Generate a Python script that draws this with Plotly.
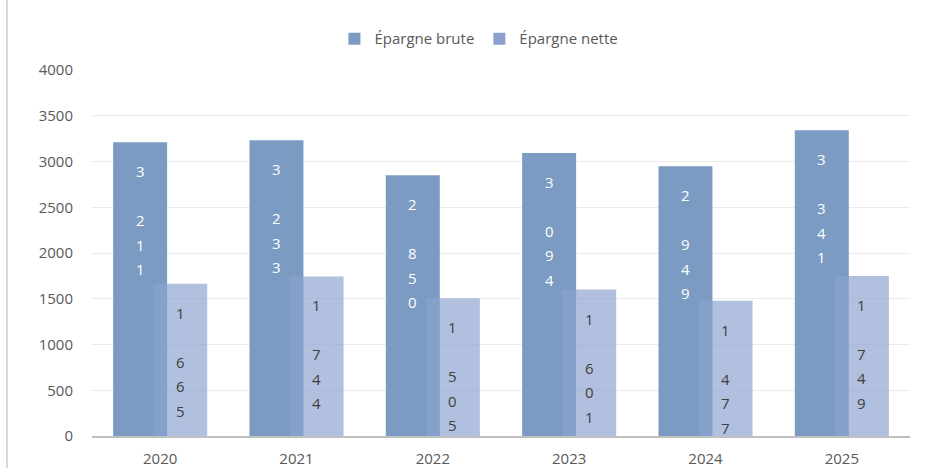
import plotly.graph_objects as go

years = ["2020", "2021", "2022", "2023", "2024", "2025"]
epargne_brute = [3211, 3233, 2850, 3094, 2949, 3341]
epargne_nette = [1665, 1744, 1505, 1601, 1477, 1749]
y_ticks = [0, 500, 1000, 1500, 2000, 2500, 3000, 3500, 4000]

FONT = "Open Sans"
BAR_W = 0.396
OFFSETS = {"brute": -0.345, "nette": -0.051}
PLOT_W = 941 - 92 - 31
PX_PER_CAT = PLOT_W / len(years)


def label_chars(v):
    return list(f"{v:,}".replace(",", " "))


fig = go.Figure()
fig.add_trace(go.Bar(
    name="Épargne brute", x=years, y=epargne_brute,
    width=BAR_W, offset=OFFSETS["brute"],
    marker=dict(color="#7B9BC3", line=dict(width=0)),
    hoverinfo="skip",
))
fig.add_trace(go.Bar(
    name="Épargne nette", x=years, y=epargne_nette,
    width=BAR_W, offset=OFFSETS["nette"],
    marker=dict(color="rgb(139,162,206)", opacity=0.68, line=dict(width=0)),
    hoverinfo="skip",
))

# vertical, one-character-per-line data labels (as in the source chart)
annotations = []
for key, values, color in (("brute", epargne_brute, "white"),
                           ("nette", epargne_nette, "#404040")):
    xshift = (OFFSETS[key] + BAR_W / 2) * PX_PER_CAT
    for idx, v in enumerate(values):
        for i, ch in enumerate(label_chars(v)):
            if ch == " ":
                continue
            annotations.append(dict(
                x=idx, y=v, xref="x", yref="y", text=ch, showarrow=False,
                xshift=xshift, yshift=-(29 + 24.5 * i), yanchor="middle",
                font=dict(family=FONT, size=15, color=color),
            ))

fig.update_layout(
    width=941, height=468,
    barmode="overlay",
    margin=dict(l=92, r=31, t=70, b=32, autoexpand=False),
    paper_bgcolor="white", plot_bgcolor="white",
    font=dict(family=FONT, size=15, color="#595959"),
    legend=dict(
        orientation="h", x=0.473, xanchor="center", y=1.085, yanchor="middle",
        font=dict(family=FONT, size=15, color="#595959"),
        itemwidth=30, traceorder="normal", bgcolor="rgba(0,0,0,0)",
    ),
    showlegend=True,
    annotations=annotations,
)
fig.update_xaxes(
    type="category", categoryorder="array", categoryarray=years,
    range=[-0.5, len(years) - 0.5],
    showgrid=False, showline=True, linecolor="#BFBFBF",
    linewidth=2, ticks="", ticklabelstandoff=8, automargin=False,
    tickfont=dict(family=FONT, size=15, color="#595959"),
)
fig.update_yaxes(
    range=[0, 4000], tickvals=y_ticks, showgrid=True, gridcolor="#EBEBEB",
    gridwidth=1, zeroline=False, showline=False, ticks="",
    ticklabelstandoff=18, automargin=False,
    tickfont=dict(family=FONT, size=15, color="#595959"),
)
fig.add_shape(type="line", xref="paper", yref="paper",
              x0=-0.1039, x1=-0.1039, y0=-0.09, y1=1.2,
              line=dict(color="#D9D9D9", width=2))

fig.write_html(
    "out.html",
    config={"displayModeBar": False},
    post_script="document.body.style.margin='0';document.body.style.overflow='hidden';",
)
